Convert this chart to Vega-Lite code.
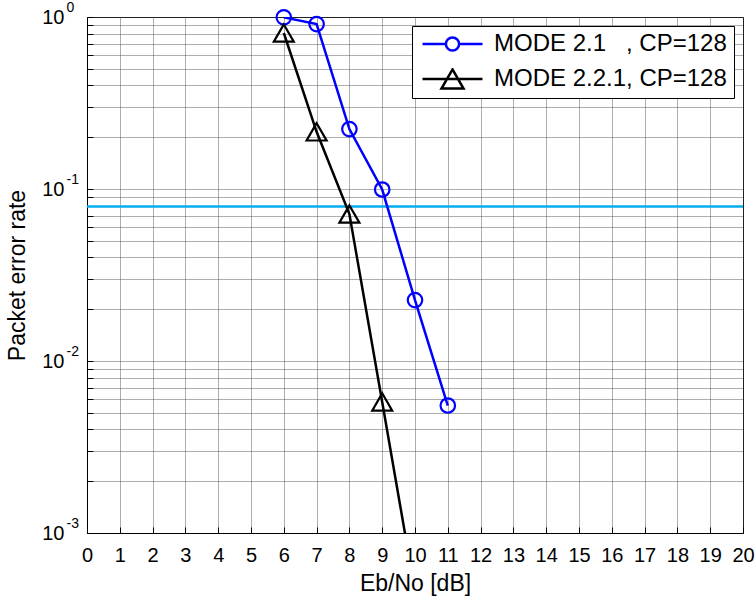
{
  "$schema": "https://vega.github.io/schema/vega-lite/v6.json",
  "width": 656,
  "height": 516,
  "autosize": "none",
  "padding": {"left": 87, "top": 17, "right": 13, "bottom": 63},
  "background": "white",
  "config": {
    "font": "Liberation Sans",
    "view": {"stroke": "black", "strokeWidth": 1},
    "axis": {"labelFont": "Liberation Sans", "titleFont": "Liberation Sans", "labelColor": "black", "titleColor": "black", "titleFontWeight": "normal"}
  },
  "datasets": {
    "series": [
      {"s": "A", "x": 6, "y": 0.995},
      {"s": "A", "x": 7, "y": 0.91},
      {"s": "A", "x": 8, "y": 0.223},
      {"s": "A", "x": 9, "y": 0.0993},
      {"s": "A", "x": 10, "y": 0.0226},
      {"s": "A", "x": 11, "y": 0.00551},
      {"s": "B", "x": 6, "y": 0.807},
      {"s": "B", "x": 7, "y": 0.215},
      {"s": "B", "x": 8, "y": 0.0715},
      {"s": "B", "x": 9, "y": 0.00578},
      {"s": "B", "x": 10, "y": 0.00046}
    ]
  },
  "encoding": {
    "x": {
      "field": "x", "type": "quantitative",
      "scale": {"domain": [0, 20], "nice": false, "zero": false},
      "axis": {
        "values": [0,1,2,3,4,5,6,7,8,9,10,11,12,13,14,15,16,17,18,19,20],
        "format": "d",
        "title": "Eb/No [dB]",
        "titleFontSize": 23,
        "titlePadding": 7,
        "labelFontSize": 20,
        "labelPadding": 18,
        "labelFlush": false,
        "labelOverlap": false,
        "ticks": true, "tickSize": -6, "tickColor": "black",
        "domainColor": "black",
        "grid": true, "gridDash": [1, 1], "gridColor": "#4a4a4a", "gridOpacity": 0.9
      }
    }
  },
  "layer": [
    {
      "data": {"values": [{"x": 0, "x2": 20, "y": 0.079}]},
      "mark": {"type": "rule", "color": "#00aeef", "strokeWidth": 2.5},
      "encoding": {
        "x2": {"field": "x2"},
        "y": {
          "field": "y", "type": "quantitative",
          "scale": {"type": "log", "domain": [0.001, 1], "nice": false},
          "axis": {
            "values": [0.001,0.002,0.003,0.004,0.005,0.006,0.007,0.008,0.009,0.01,0.02,0.03,0.04,0.05,0.06,0.07,0.08,0.09,0.1,0.2,0.3,0.4,0.5,0.6,0.7,0.8,0.9,1],
            "labelExpr": "(datum.value == 1 || datum.value == 0.1 || datum.value == 0.01 || datum.value == 0.001) ? '10' : ''",
            "title": "Packet error rate",
            "titleFontSize": 23,
            "titlePadding": 12,
            "labelFontSize": 20,
            "labelPadding": 29,
            "labelOverlap": false,
            "labelBound": false,
            "ticks": true, "tickSize": -6, "tickColor": "black",
            "domainColor": "black",
            "grid": true, "gridDash": [1, 1], "gridColor": "#4a4a4a", "gridOpacity": 0.9
          }
        }
      }
    },
    {
      "data": {"name": "series"},
      "transform": [{"filter": "datum.s == 'A'"}],
      "mark": {"type": "line", "color": "#0000ff", "strokeWidth": 2.5, "clip": true},
      "encoding": {
        "y": {
          "field": "y", "type": "quantitative",
          "scale": {"type": "log", "domain": [0.001, 1], "nice": false},
          "axis": {
            "orient": "left",
            "values": [0.001, 0.01, 0.1, 1],
            "labelExpr": "datum.value == 1 ? '0' : datum.value == 0.1 ? '-1' : datum.value == 0.01 ? '-2' : '-3'",
            "title": null,
            "labelFontSize": 14,
            "labelAlign": "left",
            "labelPadding": 21,
            "labelOffset": -10,
            "labelOverlap": false,
            "labelBound": false,
            "ticks": false,
            "domain": false,
            "grid": false
          }
        }
      }
    },
    {
      "data": {"name": "series"},
      "transform": [{"filter": "datum.s == 'A'"}],
      "mark": {"type": "point", "shape": "circle", "filled": false, "color": "#0000ff", "strokeWidth": 2.2, "size": 210, "opacity": 1},
      "encoding": {
        "y": {"field": "y", "type": "quantitative", "scale": {"type": "log", "domain": [0.001, 1], "nice": false}, "axis": null}
      }
    },
    {
      "data": {"name": "series"},
      "transform": [{"filter": "datum.s == 'B'"}],
      "mark": {"type": "line", "color": "#000000", "strokeWidth": 2.5, "clip": true},
      "encoding": {
        "y": {"field": "y", "type": "quantitative", "scale": {"type": "log", "domain": [0.001, 1], "nice": false}, "axis": null}
      }
    },
    {
      "data": {"name": "series"},
      "transform": [{"filter": "datum.s == 'B' && datum.y >= 0.001"}],
      "mark": {"type": "point", "shape": "triangle-up", "filled": false, "color": "#000000", "strokeWidth": 2.2, "size": 400, "opacity": 1},
      "encoding": {
        "y": {"field": "y", "type": "quantitative", "scale": {"type": "log", "domain": [0.001, 1], "nice": false}, "axis": null}
      }
    },
    {
      "data": {"values": [
        {"label": "MODE 2.1\u00a0\u00a0\u00a0, CP=128", "x": -5, "y": 0.5},
        {"label": "MODE 2.2.1, CP=128", "x": -5, "y": 0.5}
      ]},
      "mark": {"type": "point", "filled": false, "clip": true, "strokeWidth": 2.5, "opacity": 1},
      "encoding": {
        "y": {"field": "y", "type": "quantitative", "scale": {"type": "log", "domain": [0.001, 1], "nice": false}, "axis": null},
        "color": {
          "field": "label", "type": "nominal",
          "scale": {"domain": ["MODE 2.1\u00a0\u00a0\u00a0, CP=128", "MODE 2.2.1, CP=128"], "range": ["#0000ff", "#000000"]},
          "legend": {
            "title": null,
            "orient": "top-right",
            "offset": 9,
            "padding": 7,
            "rowPadding": 11,
            "clipHeight": 22,
            "strokeColor": "black",
            "fillColor": "white",
            "cornerRadius": 0,
            "labelFont": "Liberation Sans",
            "labelFontSize": 24,
            "labelColor": "black",
            "labelLimit": 500,
            "labelOffset": 10,
            "symbolOffset": 2,
            "symbolSize": 3600,
            "symbolStrokeWidth": 2.5,
            "symbolFillColor": "transparent"
          }
        },
        "shape": {
          "field": "label", "type": "nominal",
          "scale": {"domain": ["MODE 2.1\u00a0\u00a0\u00a0, CP=128", "MODE 2.2.1, CP=128"], "range": [
            "M-1,0H-0.22M0.22,0H1M-0.22,0A0.22,0.22,0,1,1,0.22,0A0.22,0.22,0,1,1,-0.22,0",
            "M-1,0H1M0,-0.317L0.367,0.317L-0.367,0.317Z"
          ]},
          "legend": {
            "title": null,
            "orient": "top-right",
            "offset": 9,
            "padding": 7,
            "rowPadding": 11,
            "clipHeight": 22,
            "strokeColor": "black",
            "fillColor": "white",
            "cornerRadius": 0,
            "labelFont": "Liberation Sans",
            "labelFontSize": 24,
            "labelColor": "black",
            "labelLimit": 500,
            "labelOffset": 10,
            "symbolOffset": 2,
            "symbolSize": 3600,
            "symbolStrokeWidth": 2.5,
            "symbolFillColor": "transparent"
          }
        }
      }
    }
  ],
  "resolve": {"axis": {"y": "independent"}}
}
